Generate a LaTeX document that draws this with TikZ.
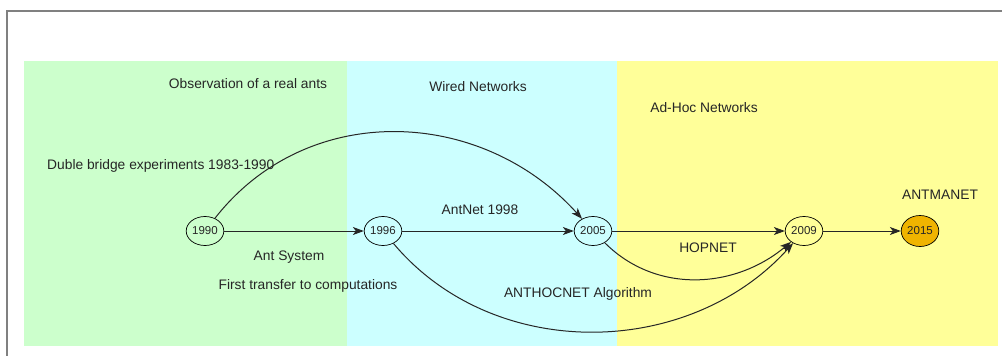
\documentclass[tikz,border=0pt]{standalone}
\usepackage{fontspec}
\setmainfont{Liberation Sans}
\usepackage{tikz}
\usetikzlibrary{positioning}
\usetikzlibrary{arrows.meta,shapes}
\usetikzlibrary{calc}

\definecolor{antgreen}{HTML}{CCFFCC}
\definecolor{antcyan}{HTML}{CCFFFF}
\definecolor{antyellow}{HTML}{FFFF99}
\definecolor{antorange}{HTML}{F0B400}

\tikzset{
  yearnode/.style={draw, ellipse, line width=0.7pt, minimum width=37pt, minimum height=29pt,
    inner sep=0.5pt, font=\fontsize{11.5}{13}\selectfont, text=black!85},
  lbl/.style={font=\fontsize{13.8}{16}\selectfont, inner sep=0pt, text=black!85},
  arr/.style={-{Stealth[length=11pt,width=8pt,inset=3pt]}, line width=1pt, black!85}
}

\begin{document}
\begin{tikzpicture}[x=1pt, y=-1pt]

\useasboundingbox (0,0) rectangle (1002,356);
\draw[gray, line width=2pt] (7,356) -- (7,11) -- (1002,11);

% the three periods
\fill[antgreen] (24,61) rectangle (347,346);
\fill[antcyan] (347,61) rectangle (617,346);
\fill[antyellow] (617,61) rectangle (998,346);

\node[lbl] (obs) at (248,84) {Observation of a real ants};
\node[lbl] (wired) at (478,87) {Wired Networks};
\node[lbl] (adhoc) at (704,108) {Ad-Hoc Networks};

% years
\node[yearnode] (y1990) at (205,231) {1990};
\node[yearnode] (y1996) at (383,231) {1996};
\node[yearnode] (y2005) at (593,231) {2005};
\node[yearnode] (y2009) at (804,231) {2009};
\node[yearnode, fill=antorange, minimum width=31pt, minimum height=31pt] (y2015) at (920,231) {2015};

\node[lbl, anchor=west] (duble) at (47,166) {Duble bridge experiments 1983-1990};
\node[lbl] (antnet) at (480,210) {AntNet 1998};
\node[lbl] (antsys) at (289,257) {Ant System};
\node[lbl] (first) at (308,286) {First transfer to computations};
\node[lbl] (anthoc) at (578,294) {ANTHOCNET Algorithm};
\node[lbl] (hopnet) at (708,248) {HOPNET};
\node[lbl] (antmanet) at (940,195) {ANTMANET};

\draw[arr] (y1990) -- (y1996);
\draw[arr] (y1996) -- (y2005);
\draw[arr] (y2005) -- (y2009);
\draw[arr] (y2009) -- (y2015);
\draw[arr] (y1990) to[out=52, in=132, looseness=1.05] (y2005);
\draw[arr] (y1996) to[out=-50, in=-132] (y2009);
\draw[arr] (y2005) to[out=-45, in=-140] (y2009);

\end{tikzpicture}
\end{document}
